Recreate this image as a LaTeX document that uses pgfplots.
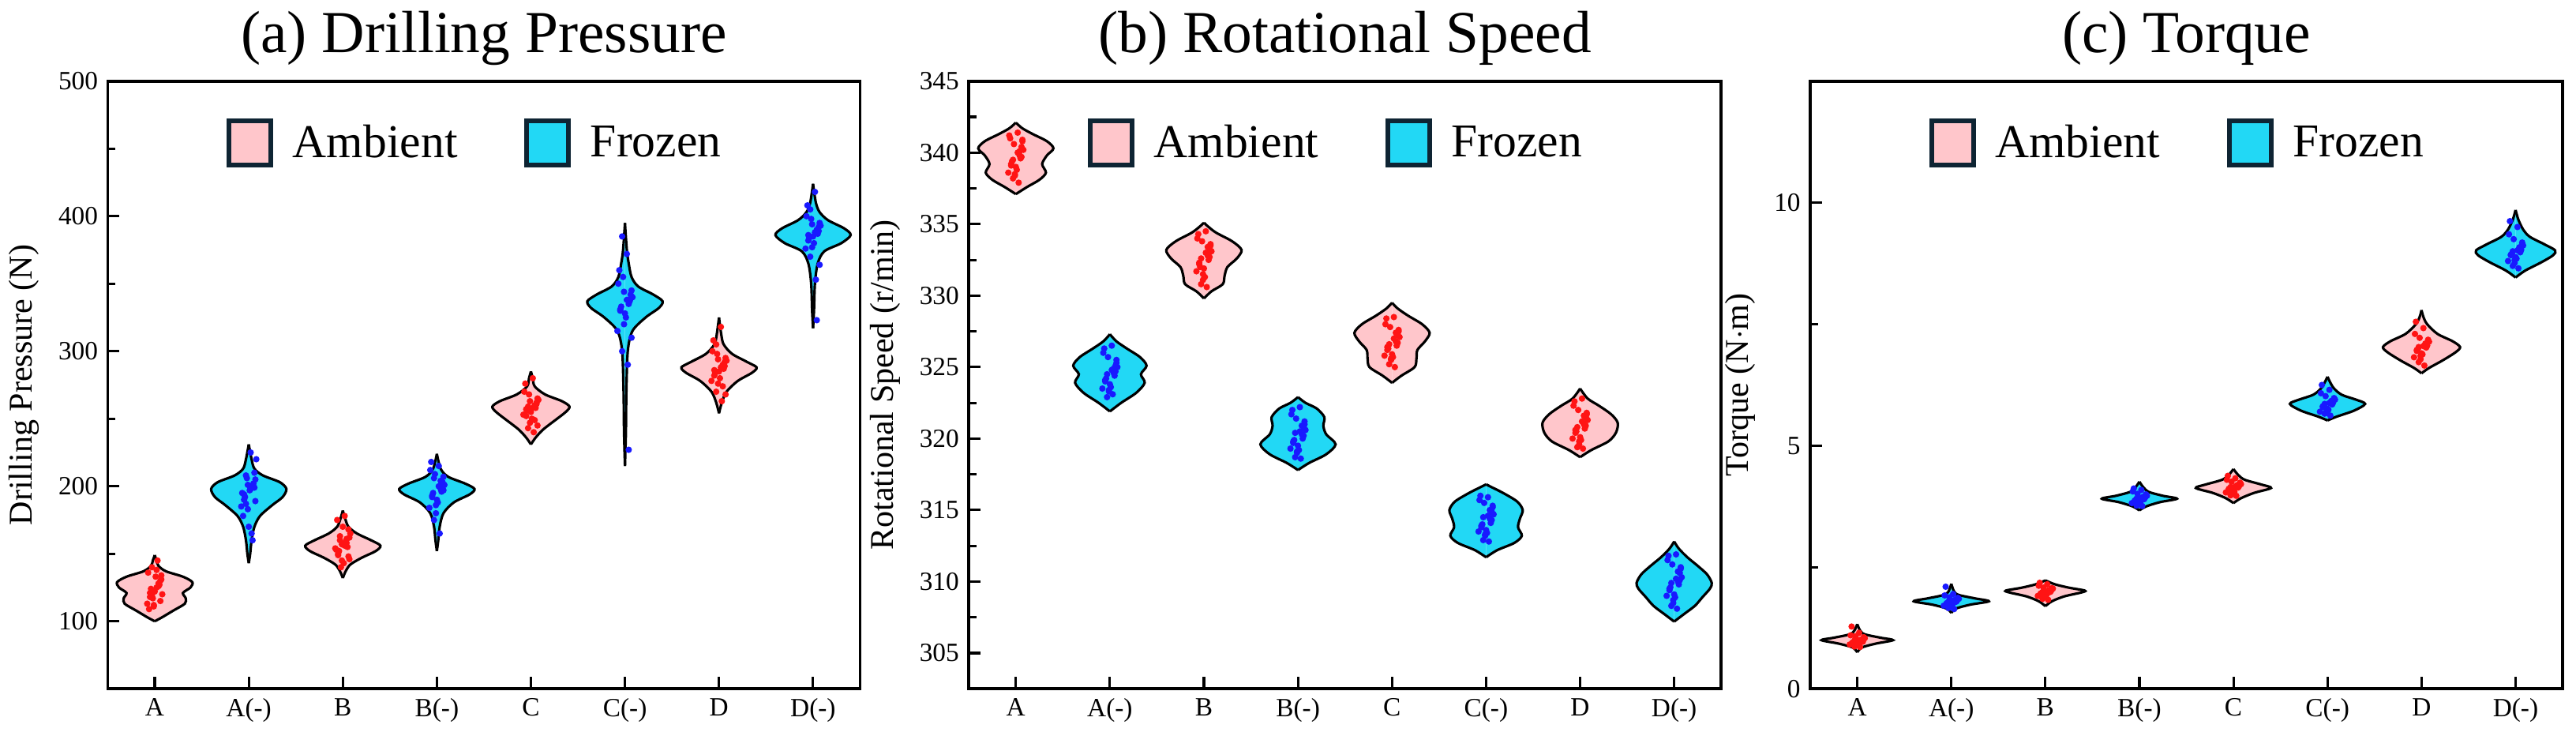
\documentclass[border=0pt]{standalone}
\usepackage{pgfplots}
\pgfplotsset{compat=1.18}
\usepackage{pgfplotstable}
\usepackage{fontspec}
\setmainfont{Liberation Serif}
\newfontfamily\tnr{Liberation Serif}
\definecolor{ambfill}{RGB}{255,198,203}
\definecolor{frofill}{RGB}{34,216,245}
\definecolor{legdark}{RGB}{14,36,51}
\definecolor{dotred}{RGB}{255,20,20}
\definecolor{dotblue}{RGB}{25,25,255}

\pgfplotsset{
 ambleg/.style={legend image code/.code={\draw[line width=1.6pt,draw=legdark,fill=ambfill] (0mm,-2.8mm) rectangle (5.3mm,2.8mm);}},
 froleg/.style={legend image code/.code={\draw[line width=1.6pt,draw=legdark,fill=frofill] (0mm,-2.8mm) rectangle (5.3mm,2.8mm);}},
 panel/.style={
  scale only axis, width=95.5mm, height=77.1mm,
  xmin=-0.5, xmax=7.5, xtick={0,...,7},
  xticklabels={A,A(-),B,B(-),C,C(-),D,D(-)},
  tick align=inside, tick pos=left,
  major tick length=1.5mm, minor tick length=1mm,
  axis line style={line width=1.1pt},
  every tick/.style={black,line width=0.9pt},
  tick label style={font=\tnr\fontsize{9.5}{11}\selectfont},
  /pgf/number format/assume math mode=true,
  ylabel style={font=\tnr\fontsize{12}{14}\selectfont},
  title style={font=\tnr\fontsize{21.5}{25}\selectfont, yshift=-1.3mm},
  legend style={at={(0.5,1)}, anchor=north, yshift=-4mm, draw=none, fill=none,
    legend columns=2, font=\tnr\fontsize{17}{20}\selectfont,
    nodes={inner xsep=2.5mm},
    /tikz/every even column/.append style={column sep=6mm}},
  legend cell align=left,
 }
}
\newcommand\violin[3]{%
 \addplot[fill=#2, draw=black, line width=0.9pt, smooth, forget plot] table[x expr=#1+\thisrow{w}, y=y, row sep=\\]{y w\\ #3};
 \addplot[fill=#2, draw=black, line width=0.9pt, smooth, forget plot] table[x expr=#1-\thisrow{w}, y=y, row sep=\\]{y w\\ #3};
}
\newcommand\jpts[4]{%
 \addplot[only marks, mark=*, mark size=0.95pt, color=#2, forget plot] table[x expr=#1+\thisrow{dx}, y=#3]{#4};
}

\pgfplotstableread{
dx A Am B Bm C Cm D Dm
0.02 125 198 156 200 258 338 288 388
-0.05 118 190 150 193 252 330 282 382
0.07 131 205 162 207 265 345 295 395
-0.01 112 183 145 186 247 320 276 377
0.04 128 200 158 198 260 335 290 390
-0.07 136 195 153 212 270 350 300 400
0.00 122 170 170 190 255 328 285 385
0.06 115 210 148 203 262 342 292 392
-0.03 140 187 160 175 243 300 270 370
0.05 127 202 155 196 258 337 287 387
-0.06 109 178 175 218 276 360 308 408
0.01 133 197 143 188 250 325 280 380
0.08 120 220 165 201 264 340 293 393
-0.04 124 192 152 195 256 333 284 384
0.03 145 165 159 165 240 290 263 353
-0.02 117 206 140 209 268 355 298 398
0.06 130 199 168 199 261 339 289 389
-0.08 113 185 154 184 253 315 278 376
0.02 138 225 178 215 280 372 318 418
-0.05 121 194 149 192 257 331 286 386
0.04 126 160 161 204 249 227 274 323
-0.01 111 201 157 180 263 344 294 394
0.07 134 189 146 197 245 310 268 364
-0.03 119 208 163 206 259 385 305 405
}\ptsa
\pgfplotstableread{
dx A Am B Bm C Cm D Dm
0.02 340.0 324.8 333.0 320.5 327.0 314.6 321.2 310.2
-0.05 339.2 324.0 332.2 319.7 326.2 313.8 320.4 309.4
0.07 340.8 325.5 333.6 321.2 327.6 315.2 321.8 311.0
-0.01 338.5 323.3 331.5 319.0 325.5 313.2 319.8 308.7
0.04 339.8 324.6 332.8 320.3 326.8 314.4 321.0 310.0
-0.07 341.2 326.0 334.0 321.7 328.0 315.7 322.3 311.5
0.00 339.0 323.8 331.9 319.5 325.9 313.6 320.1 309.1
0.06 340.4 325.1 333.3 320.8 327.3 314.9 321.5 310.6
-0.03 338.2 322.9 330.8 318.7 325.2 312.9 319.4 308.3
0.05 339.6 324.4 332.5 320.0 326.5 314.1 320.7 309.8
-0.06 341.0 326.3 334.3 322.0 328.4 316.0 322.6 311.8
0.01 338.8 323.6 331.3 319.2 325.7 313.4 319.9 308.9
0.08 340.2 325.0 333.1 320.6 327.1 314.7 321.3 310.3
-0.04 339.4 324.2 332.0 319.9 326.3 314.0 320.5 309.6
0.03 337.9 323.1 330.6 318.6 325.0 312.8 319.3 308.1
-0.02 340.6 325.7 333.8 321.4 327.8 315.5 322.0 311.2
0.06 339.7 324.7 332.7 320.2 326.7 314.3 320.9 310.1
-0.08 338.6 323.5 331.7 319.3 325.8 313.5 320.0 309.0
0.02 341.4 326.5 334.5 322.2 328.5 315.9 322.8 311.9
-0.05 339.1 324.1 332.3 319.8 326.4 313.9 320.6 309.5
0.04 340.1 324.9 333.4 320.9 327.4 315.0 321.6 310.7
-0.01 338.4 323.4 331.1 319.1 325.6 313.3 319.6 308.5
0.07 340.9 325.3 333.5 321.0 327.5 315.3 321.7 310.9
-0.03 339.5 324.5 332.6 320.4 326.6 314.5 320.8 309.9
}\ptsb
\pgfplotstableread{
dx A Am B Bm C Cm D Dm
0.02 1.00 1.80 2.00 3.92 4.16 5.88 7.05 9.02
-0.05 0.95 1.75 1.95 3.86 4.10 5.80 6.95 8.92
0.07 1.05 1.86 2.05 3.98 4.22 5.96 7.15 9.15
-0.01 0.90 1.70 1.90 3.80 4.03 5.72 6.85 8.82
0.04 0.98 1.82 2.02 3.94 4.18 5.90 7.08 9.05
-0.07 1.10 1.92 2.12 4.06 4.30 6.08 7.30 9.35
0.00 0.93 1.73 1.93 3.84 4.07 5.76 6.90 8.88
0.06 1.02 1.84 2.04 3.96 4.20 5.93 7.12 9.10
-0.03 0.87 1.66 1.85 3.77 3.98 5.66 6.72 8.70
0.05 0.99 1.79 1.99 3.90 4.14 5.85 7.02 8.98
-0.06 1.28 2.10 2.18 4.12 4.38 6.25 7.55 9.62
0.01 0.92 1.72 1.92 3.83 4.05 5.74 6.88 8.85
0.08 1.04 1.85 2.06 3.97 4.21 5.95 7.14 9.12
-0.04 0.96 1.77 1.97 3.88 4.12 5.82 6.98 8.95
0.03 0.86 1.64 1.83 3.76 3.97 5.62 6.65 8.65
-0.02 1.08 1.88 2.08 4.01 4.26 6.02 7.22 9.25
0.06 0.97 1.81 2.01 3.93 4.17 5.89 7.06 9.03
-0.08 0.91 1.71 1.91 3.82 4.04 5.70 6.82 8.80
0.02 1.15 1.95 2.15 4.09 4.33 6.15 7.42 9.50
-0.05 0.95 1.76 1.96 3.87 4.11 5.81 6.97 8.93
0.04 1.01 1.83 2.03 3.95 4.19 5.92 7.10 9.08
-0.01 0.89 1.68 1.88 3.79 4.01 5.68 6.78 8.76
0.07 1.06 1.87 2.07 4.00 4.24 5.98 7.18 9.18
-0.03 0.99 1.79 1.99 3.91 4.15 5.86 7.03 9.00
}\ptsc

\begin{document}
\tnr
\begin{tikzpicture}
\path (0,0) rectangle (326.3mm,93.3mm);
% ---------------- (a)
\begin{axis}[panel, at={(13mm,5.9mm)}, anchor=south west,
  title={(a) Drilling Pressure}, ylabel={Drilling Pressure (N)},
  ymin=50, ymax=500, ytick={100,200,300,400,500}, minor ytick={50,150,250,350,450}]
\addlegendimage{ambleg}\addlegendentry{Ambient}
\addlegendimage{froleg}\addlegendentry{Frozen}
\violin{0}{ambfill}{100 0\\103 0.08\\108 0.2\\113 0.32\\117 0.33\\121 0.3\\125 0.38\\129 0.4\\133 0.3\\137 0.12\\141 0.04\\145 0.02\\149 0\\}
\violin{1}{frofill}{143 0\\150 0.015\\160 0.03\\170 0.06\\178 0.12\\186 0.25\\192 0.36\\198 0.4\\203 0.33\\208 0.15\\213 0.06\\220 0.03\\231 0\\}
\violin{2}{ambfill}{132 0\\137 0.03\\142 0.08\\147 0.2\\152 0.35\\156 0.4\\160 0.3\\165 0.15\\170 0.06\\176 0.025\\182 0\\}
\violin{3}{frofill}{152 0\\160 0.015\\170 0.03\\180 0.07\\188 0.18\\194 0.35\\198 0.4\\202 0.3\\207 0.12\\213 0.04\\224 0\\}
\violin{4}{ambfill}{231 0\\236 0.05\\242 0.13\\249 0.26\\255 0.37\\259 0.41\\263 0.33\\268 0.15\\274 0.04\\280 0.02\\285 0\\}
\violin{5}{frofill}{215 0\\240 0.01\\270 0.015\\300 0.03\\315 0.08\\325 0.22\\332 0.36\\337 0.4\\342 0.3\\348 0.14\\355 0.07\\365 0.04\\375 0.02\\395 0\\}
\violin{6}{ambfill}{254 0\\262 0.03\\270 0.08\\278 0.2\\284 0.35\\288 0.4\\292 0.3\\298 0.14\\305 0.05\\312 0.025\\325 0\\}
\violin{7}{frofill}{317 0\\330 0.01\\350 0.02\\365 0.05\\374 0.12\\380 0.3\\386 0.4\\391 0.33\\397 0.16\\403 0.07\\410 0.03\\424 0\\}
\jpts{0}{dotred}{A}{\ptsa}\jpts{1}{dotblue}{Am}{\ptsa}
\jpts{2}{dotred}{B}{\ptsa}\jpts{3}{dotblue}{Bm}{\ptsa}
\jpts{4}{dotred}{C}{\ptsa}\jpts{5}{dotblue}{Cm}{\ptsa}
\jpts{6}{dotred}{D}{\ptsa}\jpts{7}{dotblue}{Dm}{\ptsa}
\end{axis}
% ---------------- (b)
\begin{axis}[panel, at={(122.3mm,5.9mm)}, anchor=south west,
  title={(b) Rotational Speed}, ylabel={Rotational Speed (r/min)},
  ymin=302.5, ymax=345, ytick={305,310,...,345}, minor ytick={302.5,307.5,...,342.5}]
\addlegendimage{ambleg}\addlegendentry{Ambient}
\addlegendimage{froleg}\addlegendentry{Frozen}
\violin{0}{ambfill}{337.1 0\\337.6 0.12\\338.1 0.25\\338.6 0.32\\339.2 0.28\\339.8 0.33\\340.3 0.4\\340.8 0.33\\341.3 0.18\\341.7 0.07\\342.1 0\\}
\violin{1}{frofill}{321.9 0\\322.5 0.12\\323.2 0.28\\323.9 0.37\\324.5 0.33\\325.1 0.39\\325.7 0.32\\326.3 0.18\\326.8 0.07\\327.3 0\\}
\violin{2}{ambfill}{329.8 0\\330.3 0.08\\330.8 0.2\\331.4 0.22\\332.0 0.25\\332.6 0.35\\333.2 0.4\\333.8 0.3\\334.4 0.13\\334.8 0.05\\335.1 0\\}
\violin{3}{frofill}{317.8 0\\318.3 0.12\\318.9 0.3\\319.6 0.4\\320.3 0.3\\320.9 0.27\\321.5 0.28\\322.1 0.2\\322.5 0.08\\322.9 0\\}
\violin{4}{ambfill}{323.9 0\\324.4 0.1\\325.0 0.24\\325.6 0.26\\326.2 0.27\\326.8 0.35\\327.4 0.4\\328.0 0.32\\328.6 0.17\\329.1 0.06\\329.5 0\\}
\violin{5}{frofill}{311.7 0\\312.2 0.12\\312.7 0.3\\313.2 0.38\\313.8 0.34\\314.4 0.36\\315.0 0.39\\315.6 0.33\\316.2 0.18\\316.6 0.06\\316.8 0\\}
\violin{6}{ambfill}{318.7 0\\319.2 0.12\\319.8 0.3\\320.4 0.38\\321.1 0.4\\321.7 0.33\\322.3 0.2\\322.8 0.08\\323.5 0\\}
\violin{7}{frofill}{307.2 0\\307.7 0.1\\308.3 0.22\\308.9 0.3\\309.5 0.38\\309.9 0.4\\310.5 0.35\\311.1 0.25\\311.7 0.14\\312.3 0.05\\312.8 0\\}
\jpts{0}{dotred}{A}{\ptsb}\jpts{1}{dotblue}{Am}{\ptsb}
\jpts{2}{dotred}{B}{\ptsb}\jpts{3}{dotblue}{Bm}{\ptsb}
\jpts{4}{dotred}{C}{\ptsb}\jpts{5}{dotblue}{Cm}{\ptsb}
\jpts{6}{dotred}{D}{\ptsb}\jpts{7}{dotblue}{Dm}{\ptsb}
\end{axis}
% ---------------- (c)
\begin{axis}[panel, at={(229.1mm,5.9mm)}, anchor=south west,
  title={(c) Torque}, ylabel={Torque (N$\cdot$m)},
  ymin=0, ymax=12.5, ytick={0,5,10}, minor ytick={2.5,7.5,12.5}]
\addlegendimage{ambleg}\addlegendentry{Ambient}
\addlegendimage{froleg}\addlegendentry{Frozen}
\violin{0}{ambfill}{0.75 0\\0.85 0.05\\0.93 0.2\\1.0 0.38\\1.05 0.25\\1.12 0.08\\1.2 0.03\\1.33 0\\}
\violin{1}{frofill}{1.56 0\\1.65 0.05\\1.73 0.2\\1.80 0.4\\1.86 0.25\\1.93 0.08\\2.0 0.03\\2.16 0\\}
\violin{2}{ambfill}{1.70 0\\1.8 0.07\\1.9 0.2\\1.98 0.38\\2.02 0.42\\2.08 0.25\\2.15 0.1\\2.23 0\\}
\violin{3}{frofill}{3.67 0\\3.75 0.07\\3.84 0.22\\3.91 0.4\\3.97 0.25\\4.05 0.1\\4.15 0.04\\4.26 0\\}
\violin{4}{ambfill}{3.82 0\\3.92 0.08\\4.03 0.22\\4.13 0.4\\4.2 0.3\\4.3 0.12\\4.4 0.05\\4.52 0\\}
\violin{5}{frofill}{5.52 0\\5.6 0.1\\5.72 0.28\\5.86 0.4\\5.95 0.3\\6.05 0.15\\6.2 0.06\\6.42 0\\}
\violin{6}{ambfill}{6.49 0\\6.6 0.08\\6.75 0.22\\6.92 0.36\\7.03 0.41\\7.15 0.33\\7.3 0.17\\7.5 0.06\\7.65 0.02\\7.79 0\\}
\violin{7}{frofill}{8.46 0\\8.6 0.1\\8.78 0.28\\8.92 0.4\\9.02 0.42\\9.15 0.3\\9.3 0.15\\9.45 0.08\\9.65 0.03\\9.85 0\\}
\jpts{0}{dotred}{A}{\ptsc}\jpts{1}{dotblue}{Am}{\ptsc}
\jpts{2}{dotred}{B}{\ptsc}\jpts{3}{dotblue}{Bm}{\ptsc}
\jpts{4}{dotred}{C}{\ptsc}\jpts{5}{dotblue}{Cm}{\ptsc}
\jpts{6}{dotred}{D}{\ptsc}\jpts{7}{dotblue}{Dm}{\ptsc}
\end{axis}
\end{tikzpicture}
\end{document}
